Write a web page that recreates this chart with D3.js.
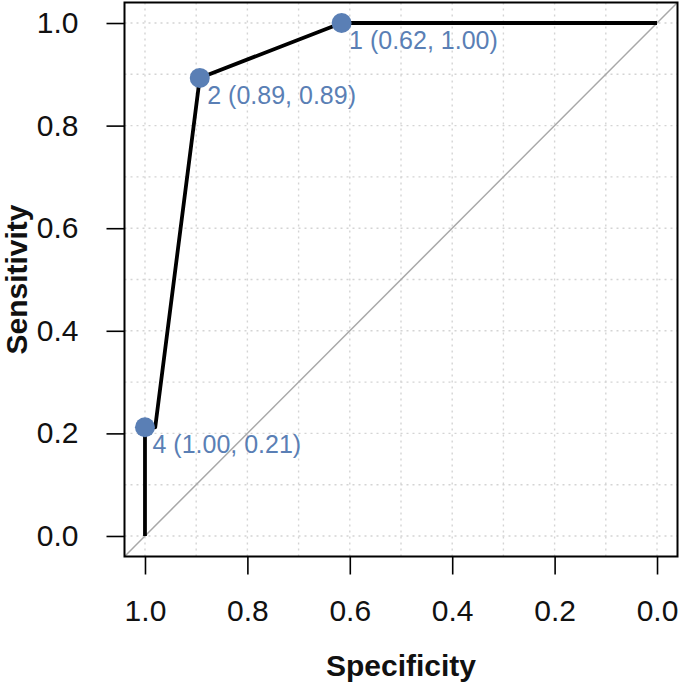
<!DOCTYPE html>
<html>
<head>
<meta charset="utf-8">
<script src="https://cdn.jsdelivr.net/npm/d3@7"></script>
<style>
html, body { margin: 0; padding: 0; background: #fff; }
svg text { font-family: "Liberation Sans", Arial, Helvetica, sans-serif; }
</style>
</head>
<body>
<svg id="chart" width="680" height="687"></svg>
<script>
// ROC curve path (specificity, sensitivity)
const curveSpecificity = [1.00, 1.00, 0.98, 0.893, 0.616, 0.00];
const curveSensitivity = [0.00, 0.212, 0.212, 0.893, 1.00, 1.00];

// Highlighted thresholds
const thresholdIds = ["1", "2", "4"];
const thresholdSpecificity = [0.616, 0.893, 1.00];
const thresholdSensitivity = [1.00, 0.893, 0.212];

// Axis ticks
const xTicks = [1.0, 0.8, 0.6, 0.4, 0.2, 0.0];
const yTicks = [0.0, 0.2, 0.4, 0.6, 0.8, 1.0];
const gridValues = [0, 0.1, 0.2, 0.3, 0.4, 0.5, 0.6, 0.7, 0.8, 0.9, 1.0];

const svg = d3.select("#chart");
const pLeft = 124.5, pRight = 677.5, pTop = 2.5, pBottom = 556.5;

const x = d3.scaleLinear().domain([1.04, -0.04]).range([pLeft, pRight]);
const y = d3.scaleLinear().domain([-0.04, 1.04]).range([pBottom, pTop]);

const pointColor = "#5a7fb5";

// clip
svg.append("defs").append("clipPath").attr("id", "clip")
  .append("rect").attr("x", pLeft).attr("y", pTop).attr("width", pRight - pLeft).attr("height", pBottom - pTop);

const plot = svg.append("g").attr("clip-path", "url(#clip)");

// grid
plot.append("g").selectAll("line").data(gridValues).join("line")
  .attr("x1", d => x(d)).attr("x2", d => x(d))
  .attr("y1", pTop).attr("y2", pBottom)
  .attr("stroke", "#d4d4d4").attr("stroke-width", 1.4).attr("stroke-dasharray", "2,4");
plot.append("g").selectAll("line").data(gridValues).join("line")
  .attr("y1", d => y(d)).attr("y2", d => y(d))
  .attr("x1", pLeft).attr("x2", pRight)
  .attr("stroke", "#d4d4d4").attr("stroke-width", 1.4).attr("stroke-dasharray", "2,4");

// diagonal
plot.append("line")
  .attr("x1", x(1.04)).attr("y1", y(-0.04))
  .attr("x2", x(-0.04)).attr("y2", y(1.04))
  .attr("stroke", "#a8a8a8").attr("stroke-width", 1.5);

// ROC curve
const rocData = curveSpecificity.map((s, i) => [s, curveSensitivity[i]]);
plot.append("path")
  .datum(rocData)
  .attr("d", d3.line().x(d => x(d[0])).y(d => y(d[1])))
  .attr("fill", "none").attr("stroke", "#000").attr("stroke-width", 3.8)
  .attr("stroke-linejoin", "round");

// threshold points
const thr = thresholdIds.map((id, i) => ({id, s: thresholdSpecificity[i], e: thresholdSensitivity[i]}));
svg.append("g").selectAll("circle").data(thr).join("circle")
  .attr("cx", d => x(d.s)).attr("cy", d => y(d.e)).attr("r", 10)
  .attr("fill", pointColor);
svg.append("g").selectAll("text").data(thr).join("text")
  .attr("x", d => x(d.s) + 7.5).attr("y", d => y(d.e) + 26)
  .attr("fill", pointColor).attr("font-size", 25)
  .text(d => `${d.id} (${d.s.toFixed(2)}, ${d.e.toFixed(2)})`);

// box
svg.append("rect").attr("x", pLeft).attr("y", pTop).attr("width", pRight - pLeft).attr("height", pBottom - pTop)
  .attr("fill", "none").attr("stroke", "#000").attr("stroke-width", 2);

// axes
const xAxis = d3.axisBottom(x).tickValues(xTicks).tickFormat(d3.format(".1f")).tickSize(18).tickPadding(25);
const gx = svg.append("g").attr("transform", `translate(0,${pBottom})`).call(xAxis);
gx.select(".domain").remove();
gx.selectAll(".tick line").attr("stroke", "#000").attr("stroke-width", 1.6);
gx.selectAll(".tick text").attr("font-size", 30).attr("fill", "#111")
  .attr("font-family", "\"Liberation Sans\", Arial, sans-serif");

const yAxis = d3.axisLeft(y).tickValues(yTicks).tickFormat(d3.format(".1f")).tickSize(18).tickPadding(28);
const gy = svg.append("g").attr("transform", `translate(${pLeft},0)`).call(yAxis);
gy.select(".domain").remove();
gy.selectAll(".tick line").attr("stroke", "#000").attr("stroke-width", 1.6);
gy.selectAll(".tick text").attr("font-size", 30).attr("fill", "#111")
  .attr("font-family", "\"Liberation Sans\", Arial, sans-serif");

// titles
svg.append("text").attr("x", (pLeft + pRight) / 2).attr("y", 676)
  .attr("text-anchor", "middle").attr("font-size", 30).attr("font-weight", "bold")
  .attr("fill", "#111").text("Specificity");
svg.append("text")
  .attr("transform", `translate(27,${(pTop + pBottom) / 2}) rotate(-90)`)
  .attr("text-anchor", "middle").attr("font-size", 30).attr("font-weight", "bold")
  .attr("fill", "#111").text("Sensitivity");
</script>
</body>
</html>
